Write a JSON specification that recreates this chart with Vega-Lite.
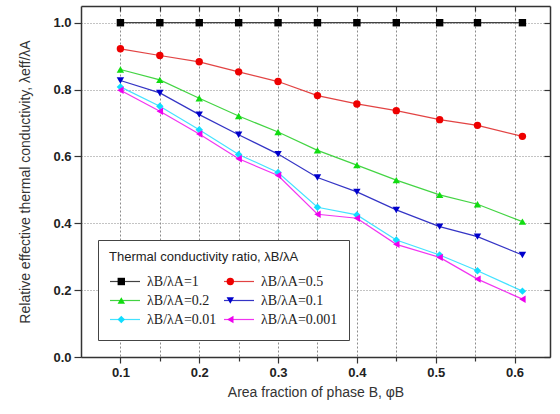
{
  "$schema": "https://vega.github.io/schema/vega-lite/v6.json",
  "width": 469,
  "height": 351,
  "autosize": {"type": "none"},
  "padding": {"left": 81, "top": 6, "right": 10, "bottom": 57},
  "background": "white",
  "config": {"view": {"stroke": null}},
  "datasets": {
    "pts": [
      {"phi": 0.1, "ratio": "λB/λA=1", "k": 1.0},
      {"phi": 0.15, "ratio": "λB/λA=1", "k": 1.0},
      {"phi": 0.2, "ratio": "λB/λA=1", "k": 1.0},
      {"phi": 0.25, "ratio": "λB/λA=1", "k": 1.0},
      {"phi": 0.3, "ratio": "λB/λA=1", "k": 1.0},
      {"phi": 0.35, "ratio": "λB/λA=1", "k": 1.0},
      {"phi": 0.4, "ratio": "λB/λA=1", "k": 1.0},
      {"phi": 0.45, "ratio": "λB/λA=1", "k": 1.0},
      {"phi": 0.505, "ratio": "λB/λA=1", "k": 1.0},
      {"phi": 0.553, "ratio": "λB/λA=1", "k": 1.0},
      {"phi": 0.61, "ratio": "λB/λA=1", "k": 1.0},
      {"phi": 0.1, "ratio": "λB/λA=0.5", "k": 0.922},
      {"phi": 0.15, "ratio": "λB/λA=0.5", "k": 0.902},
      {"phi": 0.2, "ratio": "λB/λA=0.5", "k": 0.883},
      {"phi": 0.25, "ratio": "λB/λA=0.5", "k": 0.853},
      {"phi": 0.3, "ratio": "λB/λA=0.5", "k": 0.824},
      {"phi": 0.35, "ratio": "λB/λA=0.5", "k": 0.782},
      {"phi": 0.4, "ratio": "λB/λA=0.5", "k": 0.757},
      {"phi": 0.45, "ratio": "λB/λA=0.5", "k": 0.737},
      {"phi": 0.505, "ratio": "λB/λA=0.5", "k": 0.710},
      {"phi": 0.553, "ratio": "λB/λA=0.5", "k": 0.693},
      {"phi": 0.61, "ratio": "λB/λA=0.5", "k": 0.660},
      {"phi": 0.1, "ratio": "λB/λA=0.2", "k": 0.860},
      {"phi": 0.15, "ratio": "λB/λA=0.2", "k": 0.829},
      {"phi": 0.2, "ratio": "λB/λA=0.2", "k": 0.774},
      {"phi": 0.25, "ratio": "λB/λA=0.2", "k": 0.721},
      {"phi": 0.3, "ratio": "λB/λA=0.2", "k": 0.673},
      {"phi": 0.35, "ratio": "λB/λA=0.2", "k": 0.618},
      {"phi": 0.4, "ratio": "λB/λA=0.2", "k": 0.574},
      {"phi": 0.45, "ratio": "λB/λA=0.2", "k": 0.529},
      {"phi": 0.505, "ratio": "λB/λA=0.2", "k": 0.485},
      {"phi": 0.553, "ratio": "λB/λA=0.2", "k": 0.457},
      {"phi": 0.61, "ratio": "λB/λA=0.2", "k": 0.405},
      {"phi": 0.1, "ratio": "λB/λA=0.1", "k": 0.827},
      {"phi": 0.15, "ratio": "λB/λA=0.1", "k": 0.790},
      {"phi": 0.2, "ratio": "λB/λA=0.1", "k": 0.725},
      {"phi": 0.25, "ratio": "λB/λA=0.1", "k": 0.665},
      {"phi": 0.3, "ratio": "λB/λA=0.1", "k": 0.607},
      {"phi": 0.35, "ratio": "λB/λA=0.1", "k": 0.537},
      {"phi": 0.4, "ratio": "λB/λA=0.1", "k": 0.494},
      {"phi": 0.45, "ratio": "λB/λA=0.1", "k": 0.440},
      {"phi": 0.505, "ratio": "λB/λA=0.1", "k": 0.390},
      {"phi": 0.553, "ratio": "λB/λA=0.1", "k": 0.360},
      {"phi": 0.61, "ratio": "λB/λA=0.1", "k": 0.305},
      {"phi": 0.1, "ratio": "λB/λA=0.01", "k": 0.808},
      {"phi": 0.15, "ratio": "λB/λA=0.01", "k": 0.750},
      {"phi": 0.2, "ratio": "λB/λA=0.01", "k": 0.680},
      {"phi": 0.25, "ratio": "λB/λA=0.01", "k": 0.606},
      {"phi": 0.3, "ratio": "λB/λA=0.01", "k": 0.552},
      {"phi": 0.35, "ratio": "λB/λA=0.01", "k": 0.448},
      {"phi": 0.4, "ratio": "λB/λA=0.01", "k": 0.425},
      {"phi": 0.45, "ratio": "λB/λA=0.01", "k": 0.350},
      {"phi": 0.505, "ratio": "λB/λA=0.01", "k": 0.305},
      {"phi": 0.553, "ratio": "λB/λA=0.01", "k": 0.258},
      {"phi": 0.61, "ratio": "λB/λA=0.01", "k": 0.197},
      {"phi": 0.1, "ratio": "λB/λA=0.001", "k": 0.798},
      {"phi": 0.15, "ratio": "λB/λA=0.001", "k": 0.735},
      {"phi": 0.2, "ratio": "λB/λA=0.001", "k": 0.667},
      {"phi": 0.25, "ratio": "λB/λA=0.001", "k": 0.593},
      {"phi": 0.3, "ratio": "λB/λA=0.001", "k": 0.543},
      {"phi": 0.35, "ratio": "λB/λA=0.001", "k": 0.427},
      {"phi": 0.4, "ratio": "λB/λA=0.001", "k": 0.415},
      {"phi": 0.45, "ratio": "λB/λA=0.001", "k": 0.337},
      {"phi": 0.505, "ratio": "λB/λA=0.001", "k": 0.298},
      {"phi": 0.553, "ratio": "λB/λA=0.001", "k": 0.233},
      {"phi": 0.61, "ratio": "λB/λA=0.001", "k": 0.173}
    ]
  },
  "data": {"name": "pts"},
  "layer": [
    {
      "mark": {"type": "line", "strokeWidth": 1.2, "opacity": 0.85},
      "encoding": {
        "x": {
          "field": "phi", "type": "quantitative",
          "scale": {"domain": [0.05, 0.645], "nice": false, "zero": false},
          "axis": {
            "orient": "bottom",
            "values": [0.1, 0.15, 0.2, 0.25, 0.3, 0.35, 0.4, 0.45, 0.5, 0.55, 0.6],
            "labelExpr": "round(datum.value*100) % 10 == 0 ? format(datum.value, '.1f') : ''",
            "tickSize": {"condition": {"test": "round(datum.value*100) % 10 == 0", "value": 6}, "value": 4},
            "grid": true, "gridDash": [2, 2], "gridColor": "#8c8c8c", "gridWidth": 1, "gridOpacity": 1,
            "title": "Area fraction of phase B, φB",
            "domainColor": "#333", "domainWidth": 1.5, "tickColor": "#333", "tickWidth": 1.2,
            "labelFont": "Liberation Sans", "labelFontWeight": "bold", "labelFontSize": 13, "labelColor": "#222",
            "labelPadding": 3,
            "titleFont": "Liberation Sans", "titleFontSize": 14, "titleFontWeight": "normal", "titleColor": "#333",
            "titlePadding": 6
          }
        },
        "y": {
          "field": "k", "type": "quantitative",
          "scale": {"domain": [0, 1.05], "nice": false},
          "axis": {
            "orient": "left",
            "values": [0, 0.2, 0.4, 0.6, 0.8, 1.0],
            "format": ".1f",
            "grid": true, "gridDash": [1, 2], "gridColor": "#888", "gridWidth": 1,
            "tickSize": 7,
            "title": "Relative effective thermal conductivity, λeff/λA",
            "domainColor": "#333", "domainWidth": 1.5, "tickColor": "#333", "tickWidth": 1.2,
            "labelFont": "Liberation Sans", "labelFontWeight": "bold", "labelFontSize": 13, "labelColor": "#222",
            "labelPadding": 3,
            "titleFont": "Liberation Sans", "titleFontSize": 14, "titleFontWeight": "normal", "titleColor": "#333",
            "titlePadding": 20
          }
        },
        "color": {
          "field": "ratio", "type": "nominal",
          "scale": {
            "domain": ["λB/λA=1", "λB/λA=0.5", "λB/λA=0.2", "λB/λA=0.1", "λB/λA=0.01", "λB/λA=0.001", "none"],
            "range": ["#222222", "#dd2222", "#22cc22", "#1111bb", "#22ddff", "#ee11ee", "#ffffff"]
          },
          "legend": {
            "title": "Thermal conductivity ratio, λB/λA",
            "values": ["λB/λA=1", "λB/λA=0.5", "λB/λA=0.2", "λB/λA=0.1", "λB/λA=0.01", "λB/λA=0.001"],
            "orient": "none", "legendX": 17, "legendY": 234, "direction": "horizontal",
            "columns": 2, "symbolType": "stroke", "symbolSize": 900, "symbolStrokeWidth": 1.2,
            "clipHeight": 19, "labelOffset": 6, "columnPadding": 6, "rowPadding": 0,
            "padding": 11, "strokeColor": "#444", "fillColor": "white",
            "titleFont": "Liberation Sans", "titleFontSize": 13, "titleFontWeight": "normal", "titleColor": "#222",
            "titlePadding": 8, "titleLimit": 400,
            "labelFont": "Liberation Serif", "labelFontSize": 14, "labelColor": "#222"
          }
        }
      }
    },
    {
      "mark": {"type": "point", "filled": true, "size": 55, "opacity": 1},
      "encoding": {
        "x": {"field": "phi", "type": "quantitative", "axis": null},
        "y": {"field": "k", "type": "quantitative", "axis": null},
        "fill": {
          "field": "ratio", "type": "nominal",
          "scale": {
            "domain": ["λB/λA=1", "λB/λA=0.5", "λB/λA=0.2", "λB/λA=0.1", "λB/λA=0.01", "λB/λA=0.001"],
            "range": ["#000000", "#ee0000", "#11dd11", "#0000cc", "#11ddff", "#ee00ee"]
          },
          "legend": {
            "title": " ",
            "orient": "bottom-left", "offset": 17, "direction": "horizontal",
            "columns": 2, "symbolSize": 55, "symbolStrokeWidth": 0, "symbolOffset": 5.3,
            "clipHeight": 19, "labelOffset": 28.6, "columnPadding": 61, "rowPadding": 0,
            "labelExpr": "' '",
            "padding": 11, "strokeColor": null, "fillColor": null,
            "titleFont": "Liberation Sans", "titleFontSize": 13, "titleFontWeight": "normal", "titleOpacity": 0,
            "titlePadding": 8,
            "labelFont": "Liberation Serif", "labelFontSize": 14, "labelOpacity": 0
          }
        },
        "shape": {
          "field": "ratio", "type": "nominal",
          "scale": {
            "domain": ["λB/λA=1", "λB/λA=0.5", "λB/λA=0.2", "λB/λA=0.1", "λB/λA=0.01", "λB/λA=0.001"],
            "range": ["square", "circle", "triangle-up", "triangle-down", "diamond", "triangle-left"]
          },
          "legend": {
            "title": " ",
            "orient": "bottom-left", "offset": 17, "direction": "horizontal",
            "columns": 2, "symbolSize": 55, "symbolStrokeWidth": 0, "symbolOffset": 5.3,
            "clipHeight": 19, "labelOffset": 28.6, "columnPadding": 61, "rowPadding": 0,
            "labelExpr": "' '",
            "padding": 11, "strokeColor": null, "fillColor": null,
            "titleFont": "Liberation Sans", "titleFontSize": 13, "titleFontWeight": "normal", "titleOpacity": 0,
            "titlePadding": 8,
            "labelFont": "Liberation Serif", "labelFontSize": 14, "labelOpacity": 0
          }
        }
      }
    },
    {
      "mark": {"type": "point", "opacity": 0},
      "encoding": {
        "x": {
          "field": "phi", "type": "quantitative",
          "axis": {
            "orient": "top",
            "values": [0.1, 0.15, 0.2, 0.25, 0.3, 0.35, 0.4, 0.45, 0.5, 0.55, 0.6],
            "labels": false, "title": null,
            "tickSize": -5, "grid": false,
            "domainColor": "#333", "domainWidth": 1.5, "tickColor": "#333", "tickWidth": 1.2
          }
        },
        "y": {
          "field": "k", "type": "quantitative",
          "axis": {
            "orient": "right",
            "values": [0, 0.2, 0.4, 0.6, 0.8, 1.0],
            "labels": false, "title": null,
            "tickSize": -6, "grid": false,
            "domainColor": "#333", "domainWidth": 1.5, "tickColor": "#333", "tickWidth": 1.2
          }
        }
      }
    }
  ],
  "resolve": {"axis": {"x": "independent", "y": "independent"}}
}
